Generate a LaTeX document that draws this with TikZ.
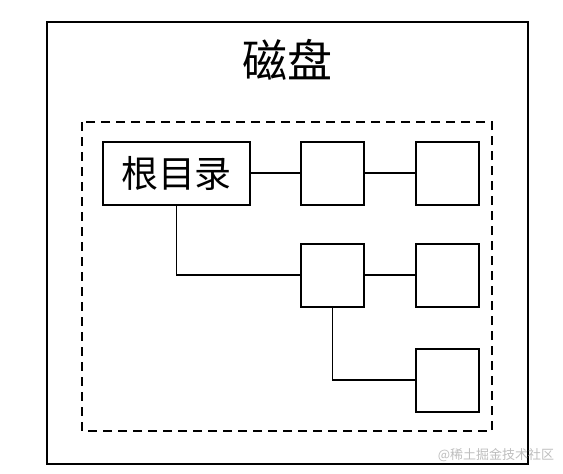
\documentclass[tikz,border=0pt]{standalone}
\usepackage{fontspec}
\usepackage{tikz}
\usepackage{xcolor}
\newfontfamily\cjk{Noto Sans CJK SC}
\usetikzlibrary{positioning, calc}
\definecolor{cMark}{RGB}{190,190,190}
\tikzset{
	dirbox/.style ={rectangle, draw=black, line width=2pt, minimum width=63pt, minimum height=63pt, inner sep=0pt, fill=white},
	rootbox/.style={dirbox, minimum width=147pt, font=\cjk\fontsize{37}{40}\selectfont},
	link/.style   ={line width=1.9pt},
	frame/.style  ={line width=2.2pt},
}
\begin{document}
\begin{tikzpicture}[x=1pt, y=-1pt]
	\useasboundingbox (0,0) rectangle (563,474);
	% disk and directory area
	\draw[frame] (47,22) rectangle (528,464);
	\draw[frame, dash pattern=on 9pt off 6pt] (82,122) rectangle (492,431);
	\node[font=\cjk\fontsize{45}{48}\selectfont] (disk) at (287,60) {磁盘};
	% directory tree
	\node[rootbox] (root) at (176.5,173) {根目录};
	\node[dirbox] (dirA) at (332.5,173) {};
	\node[dirbox] (dirB) at (447,173) {};
	\node[dirbox] (dirC) at (332.5,275) {};
	\node[dirbox] (dirD) at (447,275) {};
	\node[dirbox] (dirE) at (447,380) {};
	\draw[link] (root.east) -- (dirA.west);
	\draw[link] (dirA.east) -- (dirB.west);
	\draw[link] (root.south) |- (dirC.west);
	\draw[link] (dirC.east) -- (dirD.west);
	\draw[link] (dirC.south) |- (dirE.west);
	% watermark
	\node[text=cMark, font=\cjk\fontsize{13}{15}\selectfont] (mark) at (496,455) {@稀土掘金技术社区};
\end{tikzpicture}
\end{document}
